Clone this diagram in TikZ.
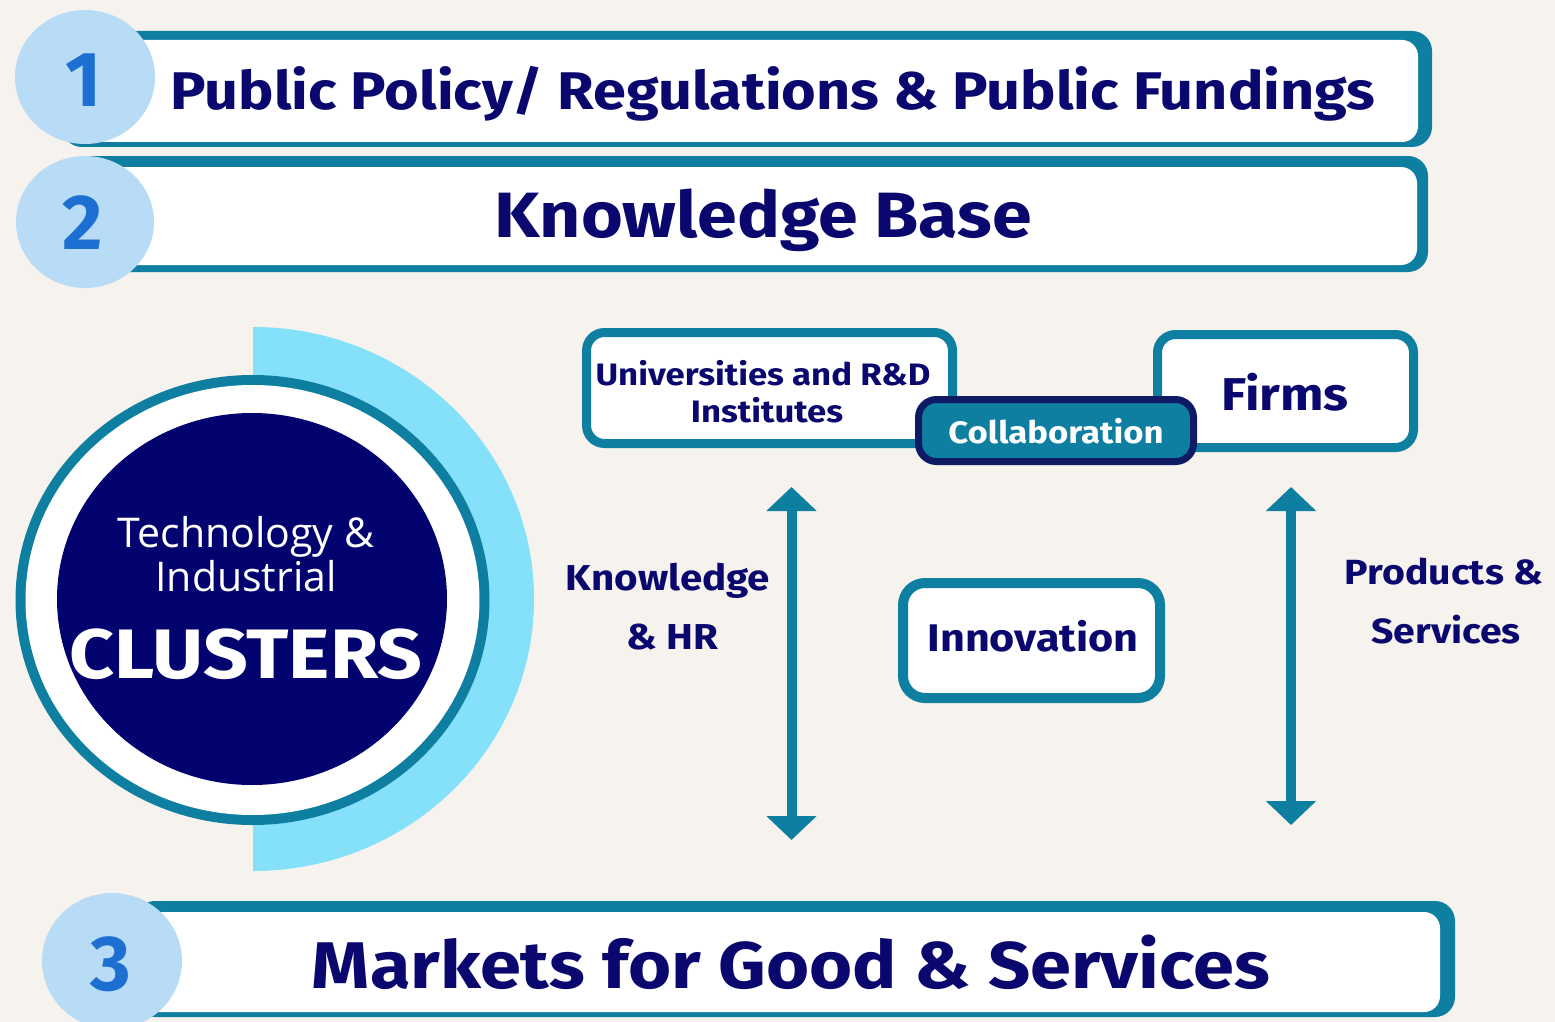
\documentclass[tikz,border=0pt]{standalone}
\usepackage{fontspec}
\setmainfont{Fira Sans}
\newfontfamily\wfont[FakeStretch=1.12]{Fira Sans}
\newfontfamily\osans{Open Sans}
\usetikzlibrary{arrows.meta}
\definecolor{bgc}{RGB}{246,243,238}
\definecolor{teal}{RGB}{14,127,160}
\definecolor{navy}{RGB}{10,8,110}
\definecolor{navyc}{RGB}{3,3,111}
\definecolor{lblue}{RGB}{133,224,250}
\definecolor{numc}{RGB}{184,219,246}
\definecolor{digit}{RGB}{30,111,210}
\definecolor{colb}{RGB}{14,26,100}
\tikzset{
  bandtxt/.style={anchor=base,text=navy,font=\wfont\bfseries\fontsize{#1}{#1}\selectfont,inner sep=0pt},
  digitxt/.style={anchor=base,text=digit,font=\bfseries\fontsize{78}{78}\selectfont,inner sep=0pt},
  smallbox/.style={draw=teal,line width=9pt,fill=white,rounded corners=18pt},
  lbl/.style={anchor=base,text=navy,font=\wfont\bfseries\fontsize{#1}{#1}\selectfont,inner sep=0pt,align=center},
  dbl/.style={draw=teal,line width=10pt,-{Triangle[width=49pt,length=24pt]}},
}
\begin{document}
\begin{tikzpicture}[x=1pt,y=-1pt]
\fill[bgc] (0,0) rectangle (1555,1022);
\useasboundingbox (0,0) rectangle (1555,1022);
% bands
\fill[teal,rounded corners=20pt] (62,31) rectangle (1432,147);
\fill[white,rounded corners=16pt] (68,40) rectangle (1418,142);
\fill[teal,rounded corners=20pt] (68,156) rectangle (1428,272);
\fill[white,rounded corners=16pt] (74,167) rectangle (1417,265);
\fill[teal,rounded corners=20pt] (135,901) rectangle (1455,1017);
\fill[white,rounded corners=16pt] (140,912) rectangle (1440,1012);
% number circles
\fill[numc] (85,77) ellipse [x radius=70pt, y radius=67pt];
\fill[numc] (85,222) ellipse [x radius=69pt, y radius=66pt];
\fill[numc] (112,961) ellipse [x radius=70pt, y radius=68pt];
\node[digitxt] (n1) at (84,107) {1};
\node[digitxt] (n2) at (83,249) {2};
\node[digitxt] (n3) at (111,990) {3};
\node[bandtxt=53] (b1) at (773,110) {Public Policy/ Regulations \& Public Fundings};
\node[bandtxt=64] (b2) at (763,237) {Knowledge Base};
\node[bandtxt=66] (b3) at (791,988) {Markets for Good \& Services};
% cluster
\begin{scope}
\clip (253,300) rectangle (600,900);
\fill[lblue] (253,599) ellipse [x radius=281pt, y radius=272pt];
\end{scope}
\fill[teal] (252.5,600) ellipse [x radius=237pt, y radius=225pt];
\fill[white] (252.5,600) ellipse [x radius=227pt, y radius=215pt];
\fill[navyc] (252,599) ellipse [x radius=195pt, y radius=186pt];
\node[anchor=base,text=white,font=\osans\fontsize{41}{41}\selectfont,inner sep=0pt] (t1) at (246,547) {Technology \&};
\node[anchor=base,text=white,font=\osans\fontsize{41}{41}\selectfont,inner sep=0pt] (t2) at (246,591) {Industrial};
\node[anchor=base,text=white,font=\wfont\bfseries\fontsize{70}{70}\selectfont,inner sep=0pt] (t3) at (246,678) {CLUSTERS};
% small boxes
\draw[smallbox] (586.5,332.5) rectangle (952.5,443.5);
\draw[smallbox] (1157.5,334.5) rectangle (1413.5,447.5);
\draw[fill=teal,draw=colb,line width=7pt,rounded corners=18pt] (918.5,399.5) rectangle (1193.5,461.5);
\draw[smallbox,line width=10pt,rounded corners=22pt] (903,583) rectangle (1160,698);
\node[lbl=31] (u1) at (763,385) {Universities and R\&D};
\node[lbl=31] (u2) at (767,422) {Institutes};
\node[lbl=46] (firms) at (1285,410) {Firms};
\node[anchor=base,text=white,font=\wfont\bfseries\fontsize{31}{31}\selectfont,inner sep=0pt] (coll) at (1056,443) {Collaboration};
\node[lbl=38.5] (inno) at (1033,651) {Innovation};
\node[lbl=36] (k1) at (668,590) {Knowledge};
\node[lbl=36] (k2) at (672,649) {\& HR};
\node[lbl=35] (p1) at (1444,584) {Products \&};
\node[lbl=35] (p2) at (1446,643) {Services};
% arrows
\coordinate (la) at (791.5,664);
\coordinate (lt) at (791.5,487);
\coordinate (lb) at (791.5,840);
\coordinate (ra) at (1291,656);
\coordinate (rt) at (1291,487);
\coordinate (rb) at (1291,825);
\draw[dbl] (la) -- (lt);
\draw[dbl] (la) -- (lb);
\draw[dbl] (ra) -- (rt);
\draw[dbl] (ra) -- (rb);
\end{tikzpicture}
\end{document}
